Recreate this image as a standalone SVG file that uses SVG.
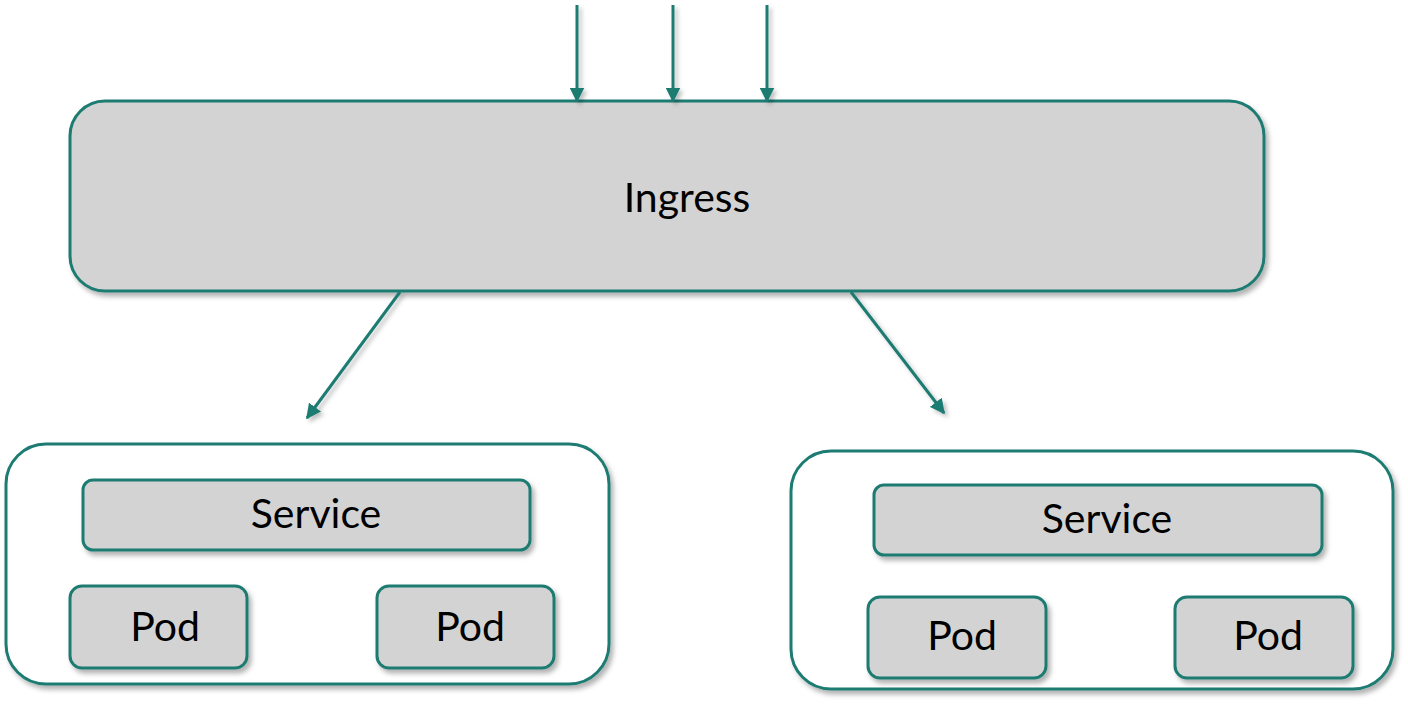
<svg xmlns="http://www.w3.org/2000/svg" width="1408" height="704" viewBox="0 0 1408 704">
<defs>
<filter id="sh" x="-10%" y="-10%" width="120%" height="130%">
<feDropShadow dx="3" dy="4" stdDeviation="2.5" flood-color="#000" flood-opacity="0.3"/>
</filter>
<filter id="shl" filterUnits="userSpaceOnUse" x="0" y="0" width="1408" height="704">
<feDropShadow dx="3" dy="3" stdDeviation="2" flood-color="#000" flood-opacity="0.25"/>
</filter>
<marker id="ah" viewBox="0 0 10 10" refX="9" refY="5" markerWidth="5" markerHeight="5" orient="auto" markerUnits="strokeWidth">
<path d="M0,0 L10,5 L0,10 z" fill="#1e7b72"/>
</marker>
</defs>
<style>
.box{fill:#d3d3d3;stroke:#1e7b72;stroke-width:3;filter:url(#sh)}
.cont{fill:#fff;stroke:#1e7b72;stroke-width:3;filter:url(#sh)}
.lbl{font-family:Lato,"Noto Sans","Liberation Sans",sans-serif;font-size:41px;fill:#000;text-anchor:middle;dominant-baseline:central}
.conn{stroke:#1e7b72;stroke-width:3;fill:none;marker-end:url(#ah)}
</style>
<g id="ingress">
<rect class="box" x="70" y="101" width="1194" height="190" rx="35"/>
<text class="lbl" x="687" y="196">Ingress</text>
</g>
<g id="left-group">
<rect class="cont" x="6" y="444" width="603" height="240" rx="40"/>
</g>
<g id="left-service">
<rect class="box" x="83" y="480" width="447" height="70" rx="10"/>
<text class="lbl" x="316" y="512">Service</text>
</g>
<g id="left-pod1">
<rect class="box" x="70" y="586" width="177" height="82" rx="12"/>
<text class="lbl" x="165" y="625">Pod</text>
</g>
<g id="left-pod2">
<rect class="box" x="377" y="586" width="177" height="82" rx="12"/>
<text class="lbl" x="470" y="625">Pod</text>
</g>
<g id="right-group">
<rect class="cont" x="791" y="451" width="602" height="238" rx="40"/>
</g>
<g id="right-service">
<rect class="box" x="874" y="485" width="448" height="70" rx="10"/>
<text class="lbl" x="1107" y="517">Service</text>
</g>
<g id="right-pod1">
<rect class="box" x="868" y="597" width="178" height="81" rx="12"/>
<text class="lbl" x="962" y="634">Pod</text>
</g>
<g id="right-pod2">
<rect class="box" x="1175" y="597" width="178" height="81" rx="12"/>
<text class="lbl" x="1268" y="634">Pod</text>
</g>
<g id="connectors" filter="url(#shl)">
<line class="conn" x1="577" y1="5" x2="577" y2="101"/>
<line class="conn" x1="673" y1="5" x2="673" y2="101"/>
<line class="conn" x1="767" y1="5" x2="767" y2="101"/>
<line class="conn" x1="400" y1="292" x2="307" y2="418"/>
<line class="conn" x1="851" y1="292" x2="944" y2="413"/>
</g>
</svg>
